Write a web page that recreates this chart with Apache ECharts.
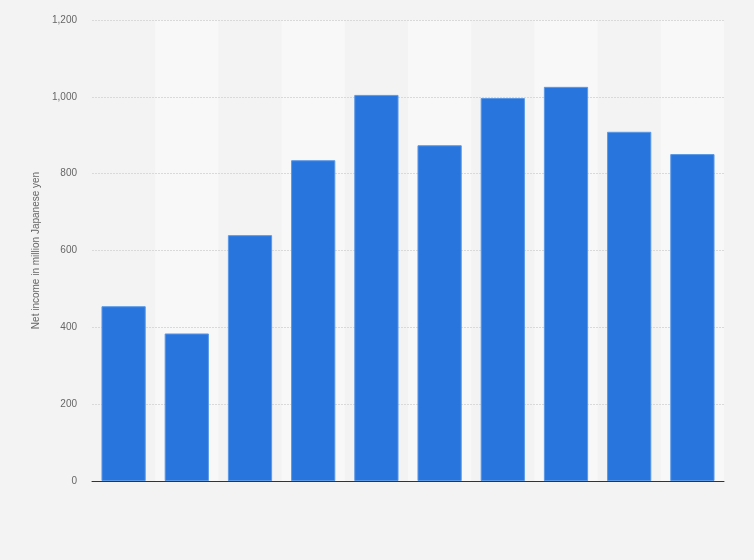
<!DOCTYPE html>
<html>
<head>
<meta charset="utf-8">
<script src="https://cdn.jsdelivr.net/npm/echarts@6/dist/echarts.min.js"></script>
<style>
html,body{margin:0;padding:0;background:#f3f3f3;}
#chart{width:754px;height:560px;}
</style>
</head>
<body>
<div id="chart"></div>
<script>
const categories = ['1', '2', '3', '4', '5', '6', '7', '8', '9', '10'];
const netIncome = [455, 384, 640, 835, 1005, 874, 997, 1026, 909, 851];
const yTicks = [0, 200, 400, 600, 800, 1000, 1200];

const chart = echarts.init(document.getElementById('chart'), null, {renderer: 'canvas'});
chart.setOption({
  backgroundColor: '#f3f3f3',
  animation: false,
  grid: {left: 92, right: 30, top: 20, bottom: 79, containLabel: false},
  xAxis: {
    type: 'category',
    data: categories,
    boundaryGap: true,
    z: 0,
    axisLine: {show: true, lineStyle: {color: '#333', width: 1}},
    axisTick: {show: false},
    axisLabel: {show: false},
    splitLine: {show: false},
    splitArea: {show: true, interval: 0, areaStyle: {color: ['rgba(0,0,0,0)', '#f8f8f8']}}
  },
  yAxis: {
    type: 'value',
    z: 1,
    min: yTicks[0],
    max: yTicks[yTicks.length - 1],
    interval: 200,
    name: 'Net income in million Japanese yen',
    nameLocation: 'middle',
    nameGap: 43,
    nameTextStyle: {color: '#666', fontSize: 10, fontFamily: 'Liberation Sans, Arial, sans-serif'},
    axisLine: {show: false},
    axisTick: {show: false},
    axisLabel: {
      color: '#666', fontSize: 10, margin: 15,
      fontFamily: 'Liberation Sans, Arial, sans-serif',
      formatter: v => v.toLocaleString('en-US')
    },
    splitLine: {show: true, showMinLine: false, lineStyle: {color: '#d9d9d9', type: [2, 1], width: 1}}
  },
  series: [{
    type: 'bar',
    z: 2,
    data: netIncome,
    barWidth: '70%',
    itemStyle: {color: '#2876dd', borderColor: '#5a98e6', borderWidth: 1}
  }]
});
</script>
</body>
</html>
